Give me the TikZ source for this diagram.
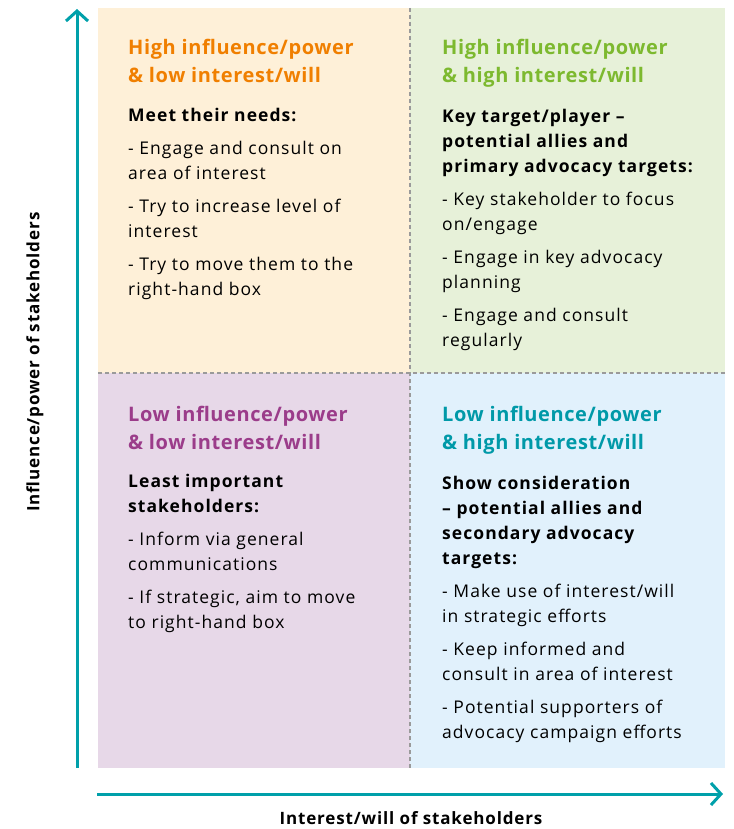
\documentclass[tikz,border=0pt]{standalone}
\usepackage{fontspec}
\setmainfont{Open Sans}
\usetikzlibrary{arrows.meta}

\definecolor{hiLoFill}{HTML}{FEF0D8}
\definecolor{hiHiFill}{HTML}{E7F1D9}
\definecolor{loLoFill}{HTML}{E7D8E8}
\definecolor{loHiFill}{HTML}{E1F1FC}
\definecolor{hiLoText}{HTML}{F07F00}
\definecolor{hiHiText}{HTML}{7DB92F}
\definecolor{loLoText}{HTML}{9B3C8A}
\definecolor{loHiText}{HTML}{0099A8}
\definecolor{axisTeal}{HTML}{00A0AA}
\definecolor{divGrey}{HTML}{9A9A9A}

\begin{document}
\begin{tikzpicture}[x = 1pt, y = -1pt,
		title/.style = {anchor = base west, inner sep = 0pt, align = left, font = \fontsize{20}{28}\selectfont\bfseries\addfontfeatures{LetterSpace=3}},
		body/.style = {anchor = base west, inner sep = 0pt, align = left, font = \fontsize{17.5}{25}\selectfont\addfontfeatures{LetterSpace=6}},
		divider/.style = {draw = divGrey, line width = 1.2pt, dash pattern = on 4pt off 3pt},
		axis/.style = {draw = axisTeal, line width = 3pt, -{Straight Barb[length = 10pt, width = 22pt, line width = 3pt]}},
		axislabel/.style = {inner sep = 0pt, font = \fontsize{17}{20}\selectfont\bfseries\addfontfeatures{LetterSpace=5}}]
		
		\useasboundingbox (0,0) rectangle (733,829);
		
		% quadrants
		\fill [hiLoFill] (98,8) rectangle (410,373);
		\fill [hiHiFill] (410,8) rectangle (725,373);
		\fill [loLoFill] (98,373) rectangle (410,768);
		\fill [loHiFill] (410,373) rectangle (725,768);
		
		\draw [divider] (410,8) -- (410,768);
		\draw [divider] (98,373) -- (725,373);
		
		% high influence, low interest (base = last line)
		\node [title, text = hiLoText] (hiLoTitle) at (128,83) {High influence/power\\\& low interest/will};
		\node [body] (hiLoBody) at (128,295) {\textbf{Meet their needs:}\\[8pt]
			- Engage and consult on\\area of interest\\[8pt]
			- Try to increase level of\\interest\\[8pt]
			- Try to move them to the\\right-hand box};
		
		% high influence, high interest
		\node [title, text = hiHiText] (hiHiTitle) at (442,83) {High influence/power\\\& high interest/will};
		\node [body] (hiHiBody) at (442,346) {\textbf{Key target/player --}\\\textbf{potential allies and}\\\textbf{primary advocacy targets:}\\[8pt]
			- Key stakeholder to focus\\on/engage\\[8pt]
			- Engage in key advocacy\\planning\\[8pt]
			- Engage and consult\\regularly};
		
		% low influence, low interest
		\node [title, text = loLoText] (loLoTitle) at (128,449) {Low influence/power\\\& low interest/will};
		\node [body] (loLoBody) at (128,628) {\textbf{Least important}\\\textbf{stakeholders:}\\[8pt]
			- Inform via general\\communications\\[8pt]
			- If strategic, aim to move\\to right-hand box};
		
		% low influence, high interest
		\node [title, text = loHiText] (loHiTitle) at (442,449) {Low influence/power\\\& high interest/will};
		\node [body] (loHiBody) at (442,738) {\textbf{Show consideration}\\\textbf{-- potential allies and}\\\textbf{secondary advocacy}\\\textbf{targets:}\\[8pt]
			- Make use of interest/will\\in strategic efforts\\[8pt]
			- Keep informed and\\consult in area of interest\\[8pt]
			- Potential supporters of\\advocacy campaign efforts};
		
		% axes
		\coordinate (yStart) at (77,768);
		\coordinate (yEnd) at (77,9);
		\coordinate (xStart) at (97,794);
		\coordinate (xEnd) at (723,794);
		\draw [axis] (yStart) -- (yEnd);
		\draw [axis] (xStart) -- (xEnd);
		
		\node [axislabel, rotate = 90] (yLabel) at (35,362) {Influence/power of stakeholders};
		\node [axislabel] (xLabel) at (411,818) {Interest/will of stakeholders};
		
	\end{tikzpicture}
\end{document}
